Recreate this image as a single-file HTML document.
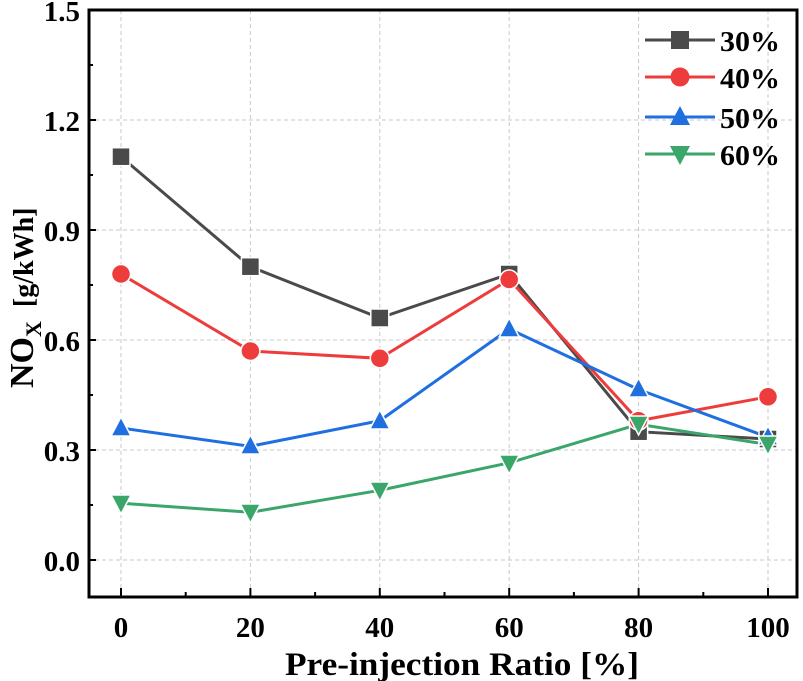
<!DOCTYPE html>
<html><head><style>body{margin:0;background:#fff}svg{display:block}</style></head>
<body>
<svg width="803" height="681" xmlns="http://www.w3.org/2000/svg" font-family="Liberation Serif, serif" font-weight="bold">
<g stroke="#c8c8c8" stroke-width="1" stroke-dasharray="4,3">
<line x1="121" y1="10" x2="121" y2="597"/><line x1="250.4" y1="10" x2="250.4" y2="597"/><line x1="379.8" y1="10" x2="379.8" y2="597"/><line x1="509.2" y1="10" x2="509.2" y2="597"/><line x1="638.6" y1="10" x2="638.6" y2="597"/><line x1="768" y1="10" x2="768" y2="597"/>
<line x1="88" y1="120" x2="798" y2="120"/><line x1="88" y1="230" x2="798" y2="230"/><line x1="88" y1="340" x2="798" y2="340"/><line x1="88" y1="450" x2="798" y2="450"/><line x1="88" y1="560" x2="798" y2="560"/>
</g>
<g stroke="#000" stroke-width="2">
<line x1="88" y1="65" x2="93" y2="65"/><line x1="88" y1="175" x2="93" y2="175"/><line x1="88" y1="285" x2="93" y2="285"/><line x1="88" y1="395" x2="93" y2="395"/><line x1="88" y1="505" x2="93" y2="505"/>
<line x1="88" y1="10" x2="96" y2="10"/><line x1="88" y1="120" x2="96" y2="120"/><line x1="88" y1="230" x2="96" y2="230"/><line x1="88" y1="340" x2="96" y2="340"/><line x1="88" y1="450" x2="96" y2="450"/><line x1="88" y1="560" x2="96" y2="560"/>
<line x1="121" y1="597" x2="121" y2="588"/><line x1="250.4" y1="597" x2="250.4" y2="588"/><line x1="379.8" y1="597" x2="379.8" y2="588"/><line x1="509.2" y1="597" x2="509.2" y2="588"/><line x1="638.6" y1="597" x2="638.6" y2="588"/><line x1="768" y1="597" x2="768" y2="588"/>
<line x1="185.7" y1="597" x2="185.7" y2="592"/><line x1="315.1" y1="597" x2="315.1" y2="592"/><line x1="444.5" y1="597" x2="444.5" y2="592"/><line x1="573.9" y1="597" x2="573.9" y2="592"/><line x1="703.3" y1="597" x2="703.3" y2="592"/>
</g>
<rect x="89" y="10" width="708" height="587" fill="none" stroke="#000" stroke-width="3"/>
<g fill="none" stroke-width="3">
<polyline stroke="#4a4a4a" points="121,156.7 250.4,266.7 379.8,318 509.2,274 638.6,431.7 768,439"/>
<polyline stroke="#ee3b3b" points="121,274 250.4,351 379.8,358.3 509.2,279.5 638.6,420.7 768,396.8"/>
<polyline stroke="#1f6fe0" points="121,428 250.4,446.3 379.8,420.7 509.2,329 638.6,389.5 768,437.2"/>
<polyline stroke="#3aa66a" points="121,503.2 250.4,512.3 379.8,490.3 509.2,462.8 638.6,424.3 768,444.5"/>
</g>
<g fill="#4a4a4a" stroke="#fff" stroke-width="1.5">
<rect x="112" y="147.7" width="18" height="18"/><rect x="241.4" y="257.7" width="18" height="18"/><rect x="370.8" y="309" width="18" height="18"/><rect x="500.2" y="265" width="18" height="18"/><rect x="629.6" y="422.7" width="18" height="18"/><rect x="759" y="430" width="18" height="18"/>
</g>
<g fill="#ee3b3b" stroke="#fff" stroke-width="1.5">
<circle cx="121" cy="274" r="9.5"/><circle cx="250.4" cy="351" r="9.5"/><circle cx="379.8" cy="358.3" r="9.5"/><circle cx="509.2" cy="279.5" r="9.5"/><circle cx="638.6" cy="420.7" r="9.5"/><circle cx="768" cy="396.8" r="9.5"/>
</g>
<g fill="#1f6fe0" stroke="#fff" stroke-width="1.5">
<polygon points="121,417 111,436 131,436"/><polygon points="250.4,435 240.4,454 260.4,454"/><polygon points="379.8,410 369.8,429 389.8,429"/><polygon points="509.2,318 499.2,337 519.2,337"/><polygon points="638.6,378 628.6,397 648.6,397"/><polygon points="768,426 758,445 778,445"/>
</g>
<g fill="#3aa66a" stroke="#fff" stroke-width="1.5">
<polygon points="121,514 111,495 131,495"/><polygon points="250.4,523 240.4,504 260.4,504"/><polygon points="379.8,501 369.8,482 389.8,482"/><polygon points="509.2,474 499.2,455 519.2,455"/><polygon points="638.6,435 628.6,416 648.6,416"/><polygon points="768,455 758,436 778,436"/>
</g>
<g stroke-width="3">
<line x1="645" y1="40" x2="715" y2="40" stroke="#4a4a4a"/><rect x="671" y="31" width="18" height="18" fill="#4a4a4a"/>
<line x1="645" y1="77" x2="715" y2="77" stroke="#ee3b3b"/><circle cx="680" cy="77" r="9.5" fill="#ee3b3b" stroke="none"/>
<line x1="645" y1="117" x2="715" y2="117" stroke="#1f6fe0"/><polygon points="680,106 670,125 690,125" fill="#1f6fe0" stroke="none"/>
<line x1="645" y1="154" x2="715" y2="154" stroke="#3aa66a"/><polygon points="680,165 670,146 690,146" fill="#3aa66a" stroke="none"/>
</g>
<g font-size="29" fill="#000">
<text x="720" y="51" textLength="60" lengthAdjust="spacingAndGlyphs">30%</text><text x="720" y="88" textLength="60" lengthAdjust="spacingAndGlyphs">40%</text><text x="720" y="128" textLength="60" lengthAdjust="spacingAndGlyphs">50%</text><text x="720" y="165" textLength="60" lengthAdjust="spacingAndGlyphs">60%</text>
</g>
<g font-size="29" text-anchor="end">
<text x="80" y="21">1.5</text><text x="80" y="131">1.2</text><text x="80" y="241">0.9</text><text x="80" y="351">0.6</text><text x="80" y="461">0.3</text><text x="80" y="571">0.0</text>
</g>
<g font-size="29" text-anchor="middle">
<text x="121" y="637">0</text><text x="250.4" y="637">20</text><text x="379.8" y="637">40</text><text x="509.2" y="637">60</text><text x="638.6" y="637">80</text><text x="768" y="637">100</text>
<text x="462" y="675" font-size="33" textLength="354" lengthAdjust="spacingAndGlyphs">Pre-injection Ratio [%]</text>
</g>
<text transform="translate(33,388) rotate(-90)" font-size="34">NO<tspan font-size="22" dy="8">X</tspan><tspan dy="-8" font-size="28" dx="14">[g/kWh]</tspan></text>
</svg>
</body></html>
